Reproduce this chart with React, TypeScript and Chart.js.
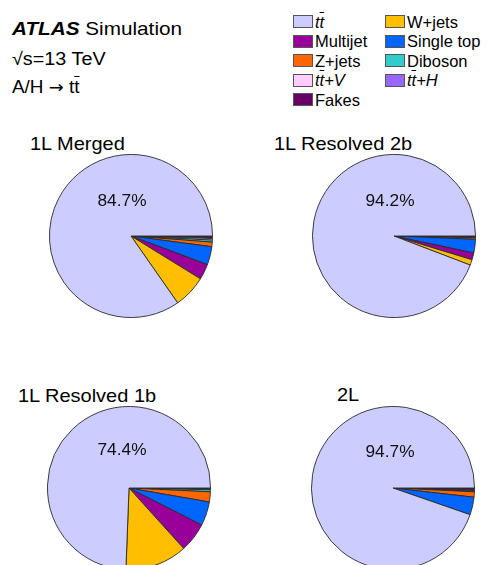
import React, { useEffect, useRef } from 'react';
import { Chart, registerables } from 'chart.js';

Chart.register(...registerables);

// ---- Data ----
const categories = ['tt̄', 'W+jets', 'Multijet', 'Single top', 'Z+jets', 'Diboson', 'tt̄+V', 'tt̄+H', 'Fakes'];
const colors = ['#ccccff', '#ffbf00', '#990099', '#0066ff', '#ff6600', '#33cccc', '#ffccff', '#9966ff', '#660066'];
const regionNames = ['1L Merged', '1L Resolved 2b', '1L Resolved 1b', '2L'];
const merged = [84.7, 6.5, 3.1, 3.6, 0.9, 0.4, 0.3, 0.2, 0.3];
const resolved2b = [94.2, 1.1, 1.35, 2.7, 0.3, 0.1, 0.05, 0.05, 0.15];
const resolved1b = [74.4, 12.3, 5.8, 4.75, 2.0, 0.4, 0.1, 0.1, 0.15];
const twoLepton = [94.7, 0, 0, 3.5, 1.05, 0.15, 0.1, 0.1, 0.4];

const FONT = '"Liberation Sans", Arial, Helvetica, sans-serif';

const pctPlugin = {
  id: 'pctLabel',
  afterDraw(chart: any, _args: any, opts: any) {
    const arc = chart.getDatasetMeta(0).data[0];
    if (!arc) return;
    const ctx = chart.ctx;
    ctx.save();
    ctx.font = `${opts.size}px ${FONT}`;
    ctx.fillStyle = '#111';
    ctx.textAlign = 'center';
    ctx.textBaseline = 'middle';
    ctx.translate(arc.x + opts.dx, arc.y + opts.dy);
    ctx.scale(opts.sx, 1);
    ctx.fillText(opts.text, 0, 0);
    ctx.restore();
  },
};

function Pie({ values, cx, cy, dx, dy }: { values: number[]; cx: number; cy: number; dx: number; dy: number }) {
  const ref = useRef<HTMLCanvasElement>(null);
  useEffect(() => {
    const total = values.reduce((a, b) => a + b, 0);
    const text = ((values[0] / total) * 100).toFixed(1) + '%';
    const chart = new Chart(ref.current!, {
      type: 'pie',
      data: {
        labels: [...categories].reverse(),
        datasets: [
          {
            data: [...values].reverse(),
            backgroundColor: [...colors].reverse(),
            borderColor: '#2a2a2a',
            borderWidth: 0.9,
          },
        ],
      },
      options: {
        responsive: false,
        animation: false,
        rotation: 90,
        layout: { padding: 8 },
        plugins: {
          legend: { display: false },
          tooltip: { enabled: false },
          pctLabel: { text, dx, dy, size: 16, sx: 1.08 },
        } as any,
      },
      plugins: [pctPlugin],
    });
    return () => chart.destroy();
  }, [values, dx, dy]);
  return (
    <canvas
      ref={ref}
      width={180}
      height={180}
      style={{ position: 'absolute', left: cx - 90, top: cy - 90, width: 180, height: 180 }}
    />
  );
}

function T({ x, base, size, sx = 1, children, style }: any) {
  return (
    <div
      style={{
        position: 'absolute',
        left: x,
        top: base - 0.8465 * size,
        fontSize: size,
        lineHeight: `${size}px`,
        whiteSpace: 'nowrap',
        transform: `scaleX(${sx})`,
        transformOrigin: '0 0',
        color: '#000',
        ...style,
      }}
    >
      {children}
    </div>
  );
}

function Label({ name }: { name: string }) {
  if (name.startsWith('tt̄')) {
    const rest = name.slice('tt̄'.length);
    return (
      <i>
        t<span style={{ textDecoration: 'overline' }}>t</span>
        {rest}
      </i>
    );
  }
  return <>{name}</>;
}

export default function App() {
  const pies = [
    { values: merged, cx: 131, cy: 236, dx: -9, dy: -34, tx: 30, tb: 151 },
    { values: resolved2b, cx: 394, cy: 236, dx: -4, dy: -34, tx: 274, tb: 151 },
    { values: resolved1b, cx: 129, cy: 488, dx: -7, dy: -37, tx: 18, tb: 403 },
    { values: twoLepton, cx: 393, cy: 488, dx: -3, dy: -35, tx: 337, tb: 402 },
  ];
  return (
    <div
      style={{
        position: 'fixed',
        left: 0,
        top: 0,
        width: 488,
        height: 565,
        overflow: 'hidden',
        background: '#fff',
        fontFamily: FONT,
      }}
    >
      <T x={12} base={36} size={18.5} sx={1.12}>
        <b>
          <i>ATLAS</i>
        </b>{' '}
        Simulation
      </T>
      <T x={12} base={65} size={18} sx={1.1}>
        √s=13 TeV
      </T>
      <T x={12} base={93} size={18} sx={1.05}>
        A/H <span style={{ fontFamily: '"DejaVu Sans", sans-serif', fontSize: 17 }}>→</span> t
        <span style={{ textDecoration: 'overline' }}>t</span>
      </T>

      {categories.map((c, i) => {
        const col = i % 2;
        const row = Math.floor(i / 2);
        const bx = col === 0 ? 293 : 385;
        const by = 15 + row * 19.5;
        return (
          <React.Fragment key={c}>
            <div
              style={{
                position: 'absolute',
                left: bx,
                top: by,
                width: 20,
                height: 13,
                background: colors[i],
                border: '1px solid #555',
                boxSizing: 'border-box',
              }}
            />
            <T x={bx + 22} base={by + 12.5} size={16.5}>
              <Label name={c} />
            </T>
          </React.Fragment>
        );
      })}

      {pies.map((p, i) => (
        <React.Fragment key={regionNames[i]}>
          <T x={p.tx} base={p.tb} size={18.5} sx={1.08}>
            {regionNames[i]}
          </T>
          <Pie values={p.values} cx={p.cx} cy={p.cy} dx={p.dx} dy={p.dy} />
        </React.Fragment>
      ))}
    </div>
  );
}
